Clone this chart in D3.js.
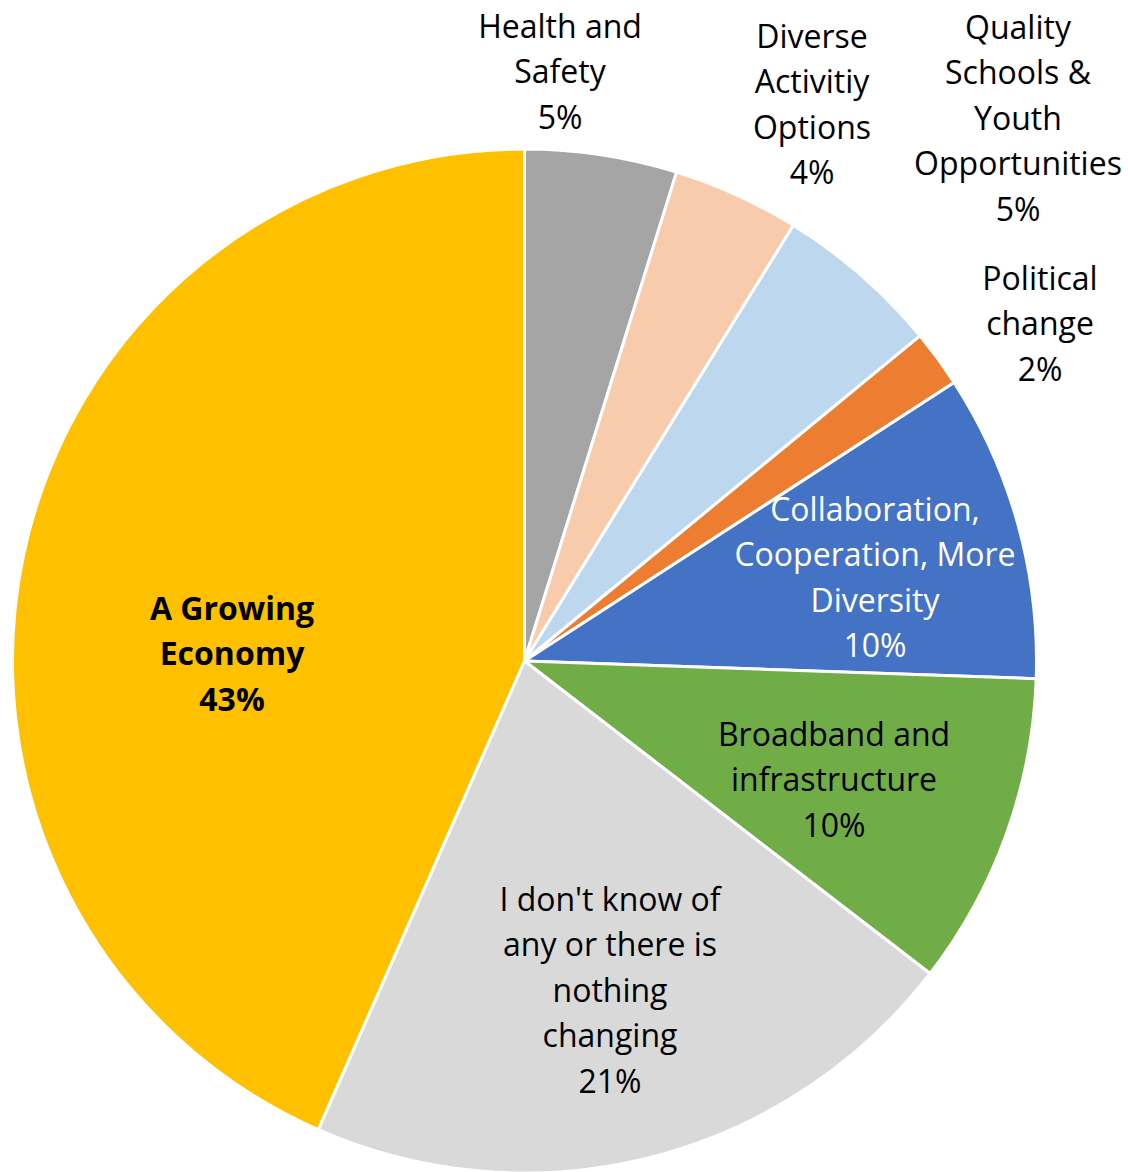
<!DOCTYPE html>
<html>
<head>
<meta charset="utf-8">
<script src="https://cdn.jsdelivr.net/npm/d3@7"></script>
<style>
  html, body { margin: 0; padding: 0; background: #ffffff; }
  svg { display: block; }
</style>
</head>
<body>
<svg id="chart" width="1128" height="1172"></svg>
<script>
// ---- data ----
const categories = [
  "Health and Safety",
  "Diverse Activitiy Options",
  "Quality Schools & Youth Opportunities",
  "Political change",
  "Collaboration, Cooperation, More Diversity",
  "Broadband and infrastructure",
  "I don't know of any or there is nothing changing",
  "A Growing Economy"
];
const values = [4.8, 4.0, 5.25, 1.8, 9.7, 9.9, 21.15, 43.4];
const percentLabels = ["5%", "4%", "5%", "2%", "10%", "10%", "21%", "43%"];
const labelLines = [
  ["Health and", "Safety"],
  ["Diverse", "Activitiy", "Options"],
  ["Quality", "Schools &", "Youth", "Opportunities"],
  ["Political", "change"],
  ["Collaboration,", "Cooperation, More", "Diversity"],
  ["Broadband and", "infrastructure"],
  ["I don't know of", "any or there is", "nothing", "changing"],
  ["A Growing", "Economy"]
];
const colors = ["#A5A5A5", "#F8CBAD", "#BDD7EE", "#ED7D31", "#4472C4", "#70AD47", "#D9D9D9", "#FFC000"];

// ---- layout ----
const cx = 524.5, cy = 661, R = 512;
// label block centers (x, first-line y) relative to pie center
const labelAnchor = [
  [35.5, -636], [287.5, -626], [493.5, -635], [515.5, -384],
  [350.5, -153], [309.5, 72], [85.5, 237], [-292.5, -54]
];
const textColor = ["#000", "#000", "#000", "#000", "#fff", "#000", "#000", "#000"];
const bold = [false, false, false, false, false, false, false, true];
const lineH = 45.5;

const svg = d3.select("#chart");
const g = svg.append("g").attr("transform", `translate(${cx},${cy})`);

const pie = d3.pie().sort(null).value(d => d)(values);
const arc = d3.arc().innerRadius(0).outerRadius(R);

g.selectAll("path.slice")
  .data(pie)
  .enter().append("path")
  .attr("class", "slice")
  .attr("d", arc)
  .attr("fill", (d, i) => colors[i])
  .attr("stroke", "#ffffff")
  .attr("stroke-width", 3)
  .attr("stroke-linejoin", "round");

const labels = g.selectAll("text.lbl")
  .data(pie)
  .enter().append("text")
  .attr("class", "lbl")
  .attr("text-anchor", "middle")
  .attr("font-family", "'Open Sans', sans-serif")
  .attr("font-size", 32)
  .attr("font-weight", (d, i) => bold[i] ? "bold" : "normal")
  .attr("fill", (d, i) => textColor[i]);

labels.each(function(d, i) {
  const t = d3.select(this);
  const lines = labelLines[i].concat([percentLabels[i]]);
  lines.forEach((s, k) => {
    t.append("tspan")
      .attr("x", labelAnchor[i][0])
      .attr("y", labelAnchor[i][1] + k * lineH)
      .attr("dominant-baseline", "central")
      .text(s);
  });
});
</script>
</body>
</html>
